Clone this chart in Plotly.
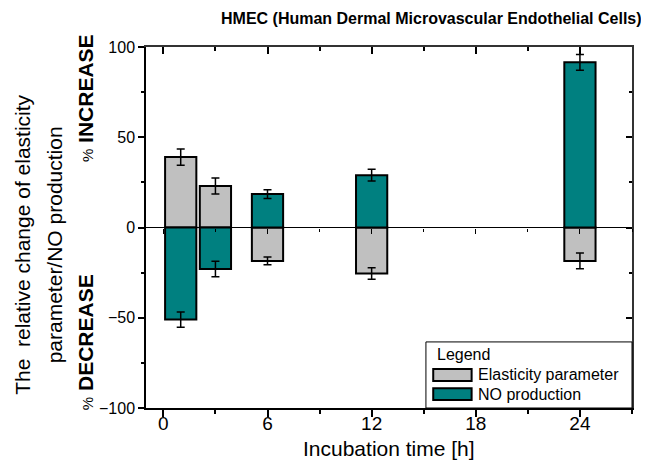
import plotly.graph_objects as go

# Data
hours = [1, 3, 6, 12, 24]
elasticity = [39, 23, -18.5, -25.5, -18.5]
elasticity_err = [4.5, 4.4, 2.2, 3.2, 4.4]
no_production = [-51, -23, 18.5, 29, 91.5]
no_err = [4.2, 4.3, 2.4, 3.3, 4.4]
x_ticks = [0, 6, 12, 18, 24]
y_ticks = [-100, -50, 0, 50, 100]
series_names = ["Elasticity parameter", "NO production"]

FONT = "Liberation Sans, Arial, sans-serif"
GREY = "#c0c0c0"
TEAL = "#008080"
colors = [GREY, TEAL]

fig = go.Figure()
fig.add_trace(go.Bar(
    x=hours, y=elasticity, width=1.8, name=series_names[0], showlegend=False,
    marker=dict(color=GREY, line=dict(color="black", width=2)),
    error_y=dict(type="data", array=elasticity_err, color="black", thickness=1.5, width=4),
))
fig.add_trace(go.Bar(
    x=hours, y=no_production, width=1.8, name=series_names[1], showlegend=False,
    marker=dict(color=TEAL, line=dict(color="black", width=2)),
    error_y=dict(type="data", array=no_err, color="black", thickness=1.5, width=4),
))
# empty helper traces so mirrored / zero-line axes are drawn
fig.add_trace(go.Scatter(x=[], y=[], xaxis="x2", yaxis="y2", showlegend=False, hoverinfo="skip"))
fig.add_trace(go.Scatter(x=[], y=[], xaxis="x3", yaxis="y", showlegend=False, hoverinfo="skip"))

xr = [-1, 27]
yr = [-100, 100]

# page body has an 8px margin, so the figure is 8px smaller and margins shifted
fig.update_layout(
    width=641, height=463,
    margin=dict(l=138, r=17, t=39, b=63),
    paper_bgcolor="white", plot_bgcolor="white",
    barmode="relative",
    font=dict(family=FONT, color="black"),
    showlegend=False,
    xaxis=dict(
        range=xr, tickvals=x_ticks, ticks="outside", ticklen=7, tickwidth=1.5, tickcolor="black",
        minor=dict(dtick=3, tick0=0, ticks="outside", ticklen=4, tickwidth=1.5, tickcolor="black"),
        showline=True, linecolor="black", linewidth=1.5, showgrid=False, zeroline=False,
        tickfont=dict(size=19), ticklabelstandoff=-10, anchor="y",
    ),
    xaxis2=dict(
        range=xr, overlaying="x", side="top", anchor="y2", tickvals=x_ticks,
        ticks="inside", ticklen=7, tickwidth=1.5, tickcolor="black",
        minor=dict(dtick=3, tick0=0, ticks="inside", ticklen=4, tickwidth=1.5, tickcolor="black"),
        showline=True, linecolor="#333333", linewidth=1.5, showgrid=False, zeroline=False,
        showticklabels=False,
    ),
    xaxis3=dict(
        range=xr, overlaying="x", anchor="free", position=0.5, tickvals=x_ticks,
        ticks="outside", ticklen=5, tickwidth=1, tickcolor="black",
        minor=dict(dtick=3, tick0=0, ticks="outside", ticklen=3, tickwidth=1, tickcolor="black"),
        showline=False, showgrid=False, zeroline=False, showticklabels=False,
    ),
    yaxis=dict(
        range=yr, tickvals=y_ticks, ticks="outside", ticklen=6, tickwidth=1.5, tickcolor="black",
        minor=dict(dtick=25, tick0=0, ticks="outside", ticklen=3, tickwidth=1.5, tickcolor="black"),
        showline=True, linecolor="black", linewidth=1.5, showgrid=False,
        zeroline=True, zerolinecolor="black", zerolinewidth=1,
        tickfont=dict(size=16), anchor="x",
    ),
    yaxis2=dict(
        range=yr, overlaying="y", side="right", anchor="x2", tickvals=y_ticks,
        ticks="inside", ticklen=6, tickwidth=1.5, tickcolor="black",
        minor=dict(dtick=25, tick0=0, ticks="inside", ticklen=3, tickwidth=1.5, tickcolor="black"),
        showline=True, linecolor="#333333", linewidth=1.5, showgrid=False, zeroline=False,
        showticklabels=False,
    ),
)

ann = [
    dict(text="<b>HMEC (Human Dermal Microvascular Endothelial Cells)</b>",
         x=0.588, y=1.078, font=dict(size=16)),
    dict(text="Incubation time [h]", x=0.5, y=-0.112, font=dict(size=21)),
    dict(text="The  relative change of elasticity", x=-0.253, y=0.452, textangle=-90, font=dict(size=21)),
    dict(text="parameter/NO production", x=-0.189, y=0.451, textangle=-90, font=dict(size=21)),
    dict(text="<span style='font-size:15px'>%</span> <b>INCREASE</b>", x=-0.123, y=0.859,
         textangle=-90, font=dict(size=21)),
    dict(text="<span style='font-size:15px'>%</span> <b>DECREASE</b>", x=-0.123, y=0.183,
         textangle=-90, font=dict(size=21)),
]
for a in ann:
    a.update(xref="paper", yref="paper", showarrow=False, xanchor="center", yanchor="middle")
    fig.add_annotation(**a)

# Legend box drawn in the lower-right corner of the plot area
fig.add_shape(type="rect", xref="paper", yref="paper", x0=0.576, x1=1.0, y0=0.0, y1=0.183,
              fillcolor="white", line=dict(color="black", width=1), layer="above")
fig.add_annotation(text="Legend", xref="paper", yref="paper", x=0.594, y=0.147,
                   xanchor="left", yanchor="middle", showarrow=False, font=dict(size=16))
swatch_y = [(0.075, 0.108), (0.022, 0.055)]
for name, col, (y0, y1) in zip(series_names, colors, swatch_y):
    fig.add_shape(type="rect", xref="paper", yref="paper", x0=0.591, x1=0.670, y0=y0, y1=y1,
                  fillcolor=col, line=dict(color="black", width=2), layer="above")
    fig.add_annotation(text=name, xref="paper", yref="paper", x=0.679, y=(y0 + y1) / 2,
                       xanchor="left", yanchor="middle", showarrow=False, font=dict(size=16))

fig.write_html("out.html")
